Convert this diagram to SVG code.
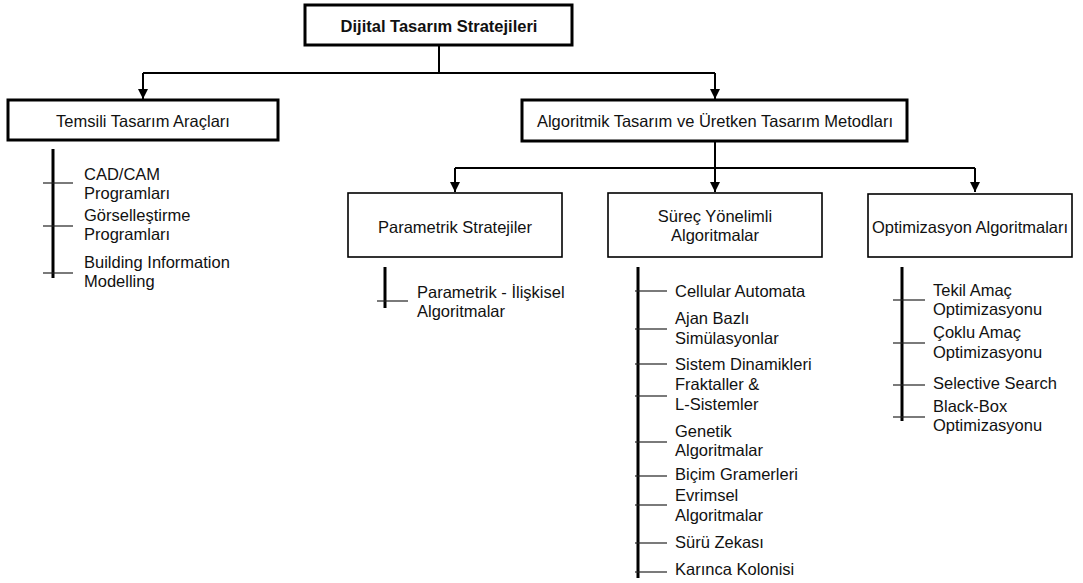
<svg xmlns="http://www.w3.org/2000/svg" width="1083" height="583" viewBox="0 0 1083 583">
  <defs>
    <marker id="arrow" viewBox="0 0 10 10" refX="10" refY="5" markerWidth="5" markerHeight="6" markerUnits="strokeWidth" orient="auto">
      <path d="M0,0 L10,5 L0,10 Z" fill="#000"/>
    </marker>
  </defs>
  <style>
    text { font-family: "Liberation Sans", Arial, sans-serif; font-size: 16.5px; fill: #111; }
    .title { font-weight: bold; }
    .mid { text-anchor: middle; }
    .box-heavy { fill: #fff; stroke: #000; stroke-width: 3; }
    .box-light { fill: #fff; stroke: #000; stroke-width: 1.6; }
    .conn { fill: none; stroke: #000; stroke-width: 2; }
    .spine { stroke: #000; stroke-width: 3; }
    .tick { stroke: #222; stroke-width: 1.2; }
  </style>

  <!-- connectors between the boxes -->
  <g id="connectors">
    <path class="conn" d="M439,45 V73"/>
    <path class="conn" d="M143,73 H715"/>
    <path class="conn" d="M143,73 V99" marker-end="url(#arrow)"/>
    <path class="conn" d="M715,73 V99" marker-end="url(#arrow)"/>
    <path class="conn" d="M715,141 V192" marker-end="url(#arrow)"/>
    <path class="conn" d="M455,168 H975"/>
    <path class="conn" d="M455,168 V192" marker-end="url(#arrow)"/>
    <path class="conn" d="M975,168 V192" marker-end="url(#arrow)"/>
  </g>

  <!-- root -->
  <g id="root">
    <rect class="box-heavy" x="305" y="5" width="267" height="40"/>
    <text class="title mid" x="439" y="32">Dijital Tasarım Stratejileri</text>
  </g>

  <!-- representational tools -->
  <g id="temsili">
    <rect class="box-heavy" x="8" y="100" width="270" height="40"/>
    <text class="mid" x="143" y="127">Temsili Tasarım Araçları</text>
  </g>

  <!-- algorithmic and generative methods -->
  <g id="algoritmik">
    <rect class="box-heavy" x="522" y="100" width="385" height="41"/>
    <text class="mid" x="715" y="127">Algoritmik Tasarım ve Üretken Tasarım Metodları</text>
  </g>

  <g id="parametrik">
    <rect class="box-light" x="348" y="193" width="214" height="64"/>
    <text class="mid" x="455" y="233">Parametrik Stratejiler</text>
  </g>

  <g id="surec">
    <rect class="box-light" x="608" y="193" width="214" height="64"/>
    <text class="mid" x="715" y="222">Süreç Yönelimli</text>
    <text class="mid" x="715" y="241">Algoritmalar</text>
  </g>

  <g id="optimizasyon">
    <rect class="box-light" x="868" y="194" width="204" height="63"/>
    <text class="mid" x="970" y="233">Optimizasyon Algoritmaları</text>
  </g>

  <!-- list under Temsili Tasarım Araçları -->
  <g id="temsili-list">
    <line class="spine" x1="53" y1="149" x2="53" y2="278"/>
    <line class="tick" x1="43" y1="183" x2="73" y2="183"/>
    <line class="tick" x1="43" y1="226" x2="73" y2="226"/>
    <line class="tick" x1="43" y1="273" x2="73" y2="273"/>
    <text x="84" y="180">CAD/CAM</text>
    <text x="84" y="199">Programları</text>
    <text x="84" y="221">Görselleştirme</text>
    <text x="84" y="240">Programları</text>
    <text x="84" y="268">Building Information</text>
    <text x="84" y="287">Modelling</text>
  </g>

  <!-- list under Parametrik Stratejiler -->
  <g id="parametrik-list">
    <line class="spine" x1="385" y1="267" x2="385" y2="308"/>
    <line class="tick" x1="377" y1="301" x2="408" y2="301"/>
    <text x="417" y="298">Parametrik - İlişkisel</text>
    <text x="417" y="317">Algoritmalar</text>
  </g>

  <!-- list under Süreç Yönelimli Algoritmalar -->
  <g id="surec-list">
    <line class="spine" x1="638" y1="267" x2="638" y2="578"/>
    <line class="tick" x1="635" y1="291" x2="667" y2="291"/>
    <line class="tick" x1="635" y1="329" x2="667" y2="329"/>
    <line class="tick" x1="635" y1="364" x2="667" y2="364"/>
    <line class="tick" x1="635" y1="396" x2="667" y2="396"/>
    <line class="tick" x1="635" y1="442" x2="667" y2="442"/>
    <line class="tick" x1="635" y1="476" x2="667" y2="476"/>
    <line class="tick" x1="635" y1="505" x2="667" y2="505"/>
    <line class="tick" x1="635" y1="543" x2="667" y2="543"/>
    <line class="tick" x1="635" y1="572" x2="667" y2="572"/>
    <text x="675" y="297">Cellular Automata</text>
    <text x="675" y="324">Ajan Bazlı</text>
    <text x="675" y="344">Simülasyonlar</text>
    <text x="675" y="370">Sistem Dinamikleri</text>
    <text x="675" y="390">Fraktaller &amp;</text>
    <text x="675" y="410">L-Sistemler</text>
    <text x="675" y="437">Genetik</text>
    <text x="675" y="456">Algoritmalar</text>
    <text x="675" y="480">Biçim Gramerleri</text>
    <text x="675" y="501">Evrimsel</text>
    <text x="675" y="521">Algoritmalar</text>
    <text x="675" y="548">Sürü Zekası</text>
    <text x="675" y="575">Karınca Kolonisi</text>
  </g>

  <!-- list under Optimizasyon Algoritmaları -->
  <g id="optimizasyon-list">
    <line class="spine" x1="902" y1="267" x2="902" y2="421"/>
    <line class="tick" x1="893" y1="300" x2="925" y2="300"/>
    <line class="tick" x1="893" y1="343" x2="925" y2="343"/>
    <line class="tick" x1="893" y1="385" x2="925" y2="385"/>
    <line class="tick" x1="893" y1="417" x2="925" y2="417"/>
    <text x="933" y="296">Tekil Amaç</text>
    <text x="933" y="315">Optimizasyonu</text>
    <text x="933" y="338">Çoklu Amaç</text>
    <text x="933" y="358">Optimizasyonu</text>
    <text x="933" y="389">Selective Search</text>
    <text x="933" y="412">Black-Box</text>
    <text x="933" y="431">Optimizasyonu</text>
  </g>
</svg>
